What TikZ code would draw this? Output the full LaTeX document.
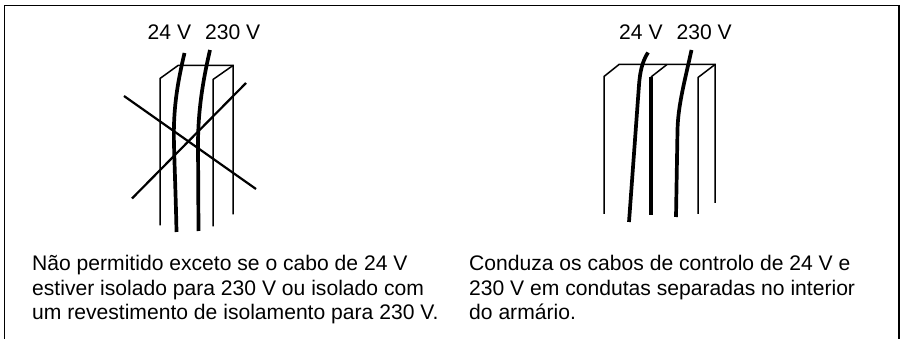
\documentclass[tikz,border=0pt]{standalone}
\usepackage{fontspec}
\setmainfont{Liberation Sans}
\tikzset{
  x=1pt,y=-1pt,
  thin line/.style={line width=1.5pt,black},
  wire/.style={line width=3.7pt,black},
  cross/.style={line width=2.2pt,black},
  lbl/.style={inner sep=0pt,anchor=base west,font=\fontsize{21.1}{24}\selectfont},
}
\begin{document}
\begin{tikzpicture}
\useasboundingbox (0,0) rectangle (900,339);
\draw[line width=1.1pt] (4.5,339) -- (4.5,5.3) -- (899,5.3) -- (899,339);
% left
\node[lbl] (a1) at (147.5,39.5) {24 V};
\node[lbl] (a2) at (205,39.5) {230 V};
\draw[thin line] (160,225.5) -- (160,78.5) -- (178,65.5) -- (233,65.5) -- (233,214.5);
\draw[thin line] (213,226.5) -- (213,79.5) -- (233,65.5);
\draw[wire] (184.5,53) .. controls (177,85) and (173,110) .. (174,145) .. controls (175,180) and (176,205) .. (176.5,232);
\draw[wire] (210,50) .. controls (203,80) and (198,110) .. (198,145) -- (198.5,231);
\draw[cross] (124,96) -- (256,189);
\draw[cross] (132,198.5) -- (246,83);
% right
\node[lbl] (b1) at (619,39.5) {24 V};
\node[lbl] (b2) at (676.5,39.5) {230 V};
\draw[thin line] (604,214) -- (604,76.5) -- (619,64.5) -- (715,64.5) -- (715,203);
\draw[thin line] (698,214) -- (698,77.5) -- (715,64.5);
\draw[thin line] (667,64.5) -- (651,77);
\draw[line width=3.8pt] (651,215) -- (651,77);
\draw[wire] (648,52.5) .. controls (642,62) and (640,72) .. (639,85) -- (629,222);
\draw[wire] (691.5,50) .. controls (685,80) and (678,105) .. (677.5,130) -- (676,217);
% text
\node[lbl] (c1) at (32,271) {Não permitido exceto se o cabo de 24 V};
\node[lbl] (c2) at (32,295) {estiver isolado para 230 V ou isolado com};
\node[lbl] (c3) at (32,319.5) {um revestimento de isolamento para 230 V.};
\node[lbl] (d1) at (469,271) {Conduza os cabos de controlo de 24 V e};
\node[lbl] (d2) at (469,295) {230 V em condutas separadas no interior};
\node[lbl] (d3) at (469,319.5) {do armário.};
\end{tikzpicture}
\end{document}
